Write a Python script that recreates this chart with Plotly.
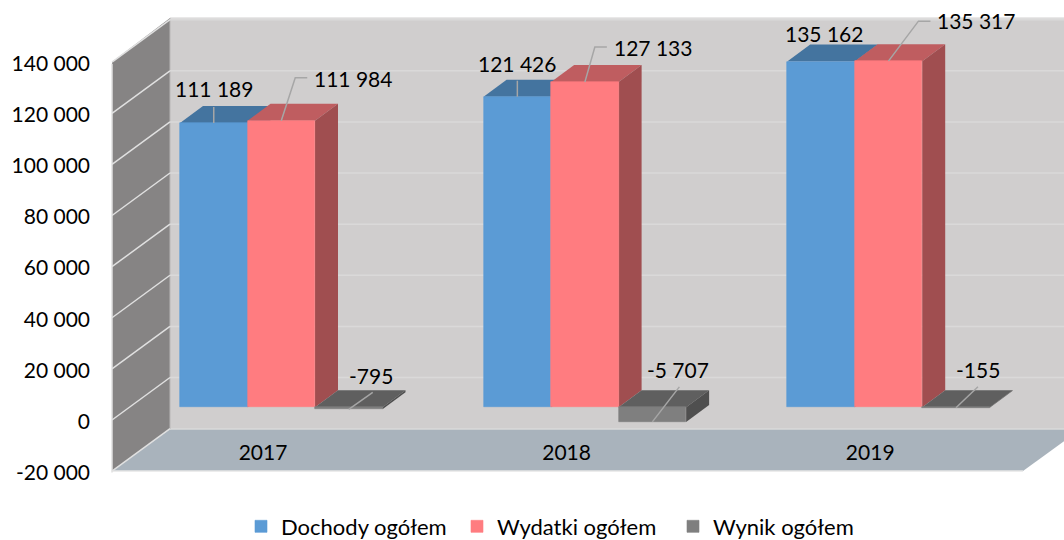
import plotly.graph_objects as go

# ---- data ----
years = ["2017", "2018", "2019"]
dochody = [111189, 121426, 135162]
wydatki = [111984, 127133, 135317]
wynik = [-795, -5707, -155]
series_names = ["Dochody ogółem", "Wydatki ogółem", "Wynik ogółem"]
axis_ticks = [-20000, 0, 20000, 40000, 60000, 80000, 100000, 120000, 140000]

# ---- layout constants (pixels) ----
W, H = 1064, 540
K = 0.002558            # px per unit
ZERO_PX = 407.3         # bars' zero line
AXIS_ZERO_PX = 420.0    # zero on front left edge
LABEL_ZERO_PX = 421.5   # tick label baseline tuning
AXIS_K = 0.002556
BAR_W = 67.5
GROUP_X0 = 180.0
GROUP_STEP = 303.6
DX, DY = 23.0, 17.0     # bar depth
FONT = "Lato, Carlito, sans-serif"
FS = 21

colors = dict(front=["#5B9BD5", "#FF7C80", "#7F7F7F"],
              top=["#44749F", "#BF5D60", "#5F5F5F"],
              side=["#3E6A93", "#A04E50", "#4F4F4F"])
WALL, LEFT, FLOOR, GRID = "#D0CECE", "#868484", "#A9B3BC", "#DAD9D9"
LEADER = "#A6A6A6"


def py2v(py):
    return (ZERO_PX - py) / K


def poly(pts, fill, line=None, lw=0):
    path = "M " + " L ".join(f"{x},{y}" for x, y in pts) + " Z"
    return dict(type="path", path=path, xref="x", yref="y", layer="below",
                fillcolor=fill, line=dict(color=line or fill, width=lw))


def seg(x0, y0, x1, y1, color, width):
    return dict(type="line", x0=x0, y0=y0, x1=x1, y1=y1, xref="x", yref="y",
                layer="below", line=dict(color=color, width=width))


shapes = []
# walls
BX, FX = 170, 112
shapes.append(poly([(BX, py2v(18)), (1100, py2v(18)), (1100, py2v(429)), (BX, py2v(429))], WALL))
shapes.append(poly([(FX, py2v(62)), (BX, py2v(18)), (BX, py2v(429)), (FX, py2v(471))], LEFT))
shapes.append(poly([(BX, py2v(429)), (1081, py2v(429)), (1023, py2v(471)), (FX, py2v(471))], FLOOR))
shapes.append(seg(BX, py2v(18), 1100, py2v(18), "#E2E1E1", 1.5))
shapes.append(seg(BX, py2v(429), 1100, py2v(429), "#DADADA", 1.5))
shapes.append(seg(FX, py2v(471), 1023, py2v(471), "#E6E6E6", 1.5))
shapes.append(seg(BX, py2v(18), BX, py2v(429), "#B8B6B6", 1))
# grid lines
for t in axis_ticks:
    fy = AXIS_ZERO_PX - t * AXIS_K
    by = fy - 42.5
    shapes.append(seg(FX, py2v(fy), BX, py2v(by), "#E0E0E0", 1.5))
    if t > -20000:
        shapes.append(seg(BX, py2v(by), 1100, py2v(by), GRID, 1.5))

values = [dochody, wydatki, wynik]
bar_x = [[GROUP_X0 + g * GROUP_STEP + (s + 0.5) * BAR_W for g in range(3)] for s in range(3)]

# depth faces, derived from the values
dv = DY / K
for s in range(3):
    for g in range(3):
        v = values[s][g]
        x0 = bar_x[s][g] - BAR_W / 2
        x1 = x0 + BAR_W
        top = max(v, 0)
        low = min(v, 0)
        shapes.append(poly([(x0, top), (x1, top), (x1 + DX, top + dv), (x0 + DX, top + dv)], colors["top"][s]))
        shapes.append(poly([(x1, top), (x1 + DX, top + dv), (x1 + DX, low + dv), (x1, low)], colors["side"][s]))

fig = go.Figure()
for s in range(3):
    fig.add_trace(go.Bar(x=bar_x[s], y=values[s], width=BAR_W, name=series_names[s],
                         marker=dict(color=colors["front"][s], line=dict(color=colors["front"][s], width=0.6)),
                         hoverinfo="skip", yaxis="y"))

# the value axis, tied to the front left edge of the side wall
fig.add_trace(go.Scatter(x=[FX] * len(axis_ticks), y=axis_ticks, mode="lines", yaxis="y2",
                         line=dict(color="#E0E0E0", width=1.5), showlegend=False, hoverinfo="skip"))

# leader lines: offsets (px) from the point on the mark to label elbows
leaders = {
    (0, 0): [(0, -16)], (1, 0): [(14, -43), (26, -43)], (2, 0): [(24, -17)],
    (0, 1): [(0, -16)], (1, 1): [(10, -35), (22, -35)], (2, 1): [(27, -35)],
    (1, 2): [(30, -40), (42, -40)], (2, 2): [(22, -21)],
}
for (s, g), offs in leaders.items():
    v = values[s][g]
    ax = bar_x[s][g]
    xs = [ax] + [ax + o[0] for o in offs]
    ys = [v] + [v + (-o[1]) / K for o in offs]
    fig.add_trace(go.Scatter(x=xs, y=ys, mode="lines", line=dict(color=LEADER, width=1.5),
                             showlegend=False, hoverinfo="skip", yaxis="y"))

# data labels: pixel offset of label centre from the point on the mark
label_off = {
    (0, 0): (0, -34), (1, 0): (72, -42), (2, 0): (22, -34),
    (0, 1): (0, -33), (1, 1): (68, -35), (2, 1): (26, -52),
    (0, 2): (3, -28), (1, 2): (88, -41), (2, 2): (22, -38),
}
annotations = []
for (s, g), (ox, oy) in label_off.items():
    v = values[s][g]
    annotations.append(dict(x=bar_x[s][g] + ox, y=v - oy / K, xref="x", yref="y",
                            text=f"{v:,}".replace(",", " "), showarrow=False,
                            xanchor="center", yanchor="middle",
                            font=dict(family=FONT, size=FS, color="#000000")))

fig.update_layout(
    width=W, height=H, margin=dict(l=0, r=0, t=0, b=0, autoexpand=False),
    paper_bgcolor="white", plot_bgcolor="rgba(0,0,0,0)",
    barmode="overlay", bargap=0, hovermode=False,
    shapes=shapes, annotations=annotations,
    font=dict(family=FONT, size=FS, color="#000000"),
    xaxis=dict(range=[0, W], domain=[0, 1], anchor="free", position=(H - 438) / H,
               tickmode="array", tickvals=[GROUP_X0 + 83 + g * GROUP_STEP for g in range(3)],
               ticktext=years, showgrid=False, zeroline=False, showline=False, ticks="",
               tickfont=dict(family=FONT, size=FS)),
    yaxis=dict(range=[(ZERO_PX - H) / K, ZERO_PX / K], domain=[0, 1], visible=False, fixedrange=True),
    yaxis2=dict(range=[(LABEL_ZERO_PX - H) / AXIS_K, LABEL_ZERO_PX / AXIS_K], domain=[0, 1],
                overlaying="y", anchor="free", position=90 / W, side="left",
                tickmode="array", tickvals=axis_ticks,
                ticktext=[f"{t:,}".replace(",", " ") for t in axis_ticks],
                showgrid=False, zeroline=False, showline=False, ticks="",
                tickfont=dict(family=FONT, size=FS)),
    legend=dict(orientation="h", x=241 / W, xanchor="left", y=(H - 505.5) / H, yanchor="top",
                entrywidth=171, entrywidthmode="pixels",
                font=dict(family=FONT, size=22), bgcolor="rgba(0,0,0,0)", itemclick=False,
                itemdoubleclick=False),
)

fig.write_html("out.html", config={"displayModeBar": False},
               post_script="document.body.style.margin='0';document.body.style.overflow='hidden';")
